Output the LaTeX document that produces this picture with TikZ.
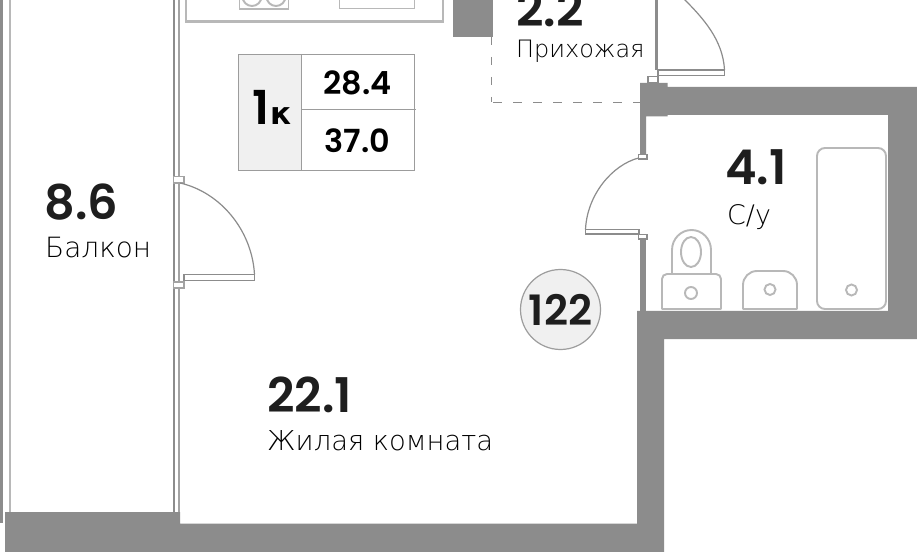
\documentclass[tikz,border=0pt]{standalone}
\usepackage{fontspec}
\setmainfont{DejaVu Sans ExtraLight}
\newfontfamily\numfont{Poppins SemiBold}
\newfontfamily\letterfont{DejaVu Sans}
\definecolor{wallgray}{HTML}{8C8C8C}
\definecolor{fixgray}{HTML}{B8B8B8}
\definecolor{inkdark}{HTML}{1E1E1E}
\tikzset{
  wall/.style={fill=wallgray, draw=none},
  fixture/.style={draw=fixgray, line width=1.9bp, fill=white},
  thin/.style={draw=wallgray, line width=1.1bp, fill=white},
  doorarc/.style={draw=wallgray, line width=1.2bp},
  area/.style={anchor=base west, inner sep=0pt, text=inkdark, font=\numfont\fontsize{48}{48}\selectfont},
  roomname/.style={anchor=base west, inner sep=0pt, text=black, font=\fontsize{#1}{#1}\selectfont},
  cell/.style={inner sep=0pt, text=black, font=\numfont\fontsize{32}{32}\selectfont}
}
\begin{document}
\begin{tikzpicture}[x=1bp, y=-1bp]
  \useasboundingbox (0, 0) rectangle (917, 552);
  \clip (0, 0) rectangle (917, 552);
  \fill [white] (0, 0) rectangle (917, 552);
  % balcony lines
  \fill [wallgray] (0, 0) rectangle (2.5, 523);
  \fill [fixgray] (9, 0) rectangle (10.5, 512);
  \fill [wallgray] (173, 0) rectangle (175, 512);
  \fill [wallgray!80] (178, 0) rectangle (180, 523);
  % walls
  \fill [wall] (5, 512) -- (180, 512) -- (180, 523.5) -- (637, 523.5) -- (637, 311)
    -- (888, 311) -- (888, 115) -- (667.5, 115) -- (667.5, 116.5) -- (646, 116.5)
    -- (646, 155) -- (640, 155) -- (640, 83) -- (667.5, 83) -- (667.5, 87) -- (917, 87)
    -- (917, 339) -- (664, 339) -- (664, 552) -- (5, 552) -- cycle;
  \fill [wall] (640, 238) rectangle (646, 312);
  \fill [wall] (453, 0) rectangle (493, 37);
  % partition of the hall
  \draw [wallgray, line width=1.2bp, dash pattern=on 8bp off 12bp] (491.5, 37) -- (491.5, 102.5);
  \draw [wallgray, line width=1.6bp, dash pattern=on 9bp off 11bp] (493, 102.5) -- (640, 102.5);
  % kitchen
  \draw [fixture, fill=none, line width=2.6bp] (186, -10) -- (186, 21.5) -- (443, 21.5) -- (443, -10);
  \draw [fixture, fill=none] (239.5, -10) -- (239.5, 9) -- (288.5, 9) -- (288.5, -10);
  \draw [fixture, fill=none] (252, -3.5) circle (9.5);
  \draw [fixture, fill=none] (276, -3.5) circle (9.5);
  \draw [fixture, fill=none] (339.5, -10) -- (339.5, 8.5) -- (414.5, 8.5) -- (414.5, -10);
  % flat type table
  \fill [black!6] (238.5, 54) rectangle (301.5, 170);
  \draw [fixgray!85!black, line width=0.8bp] (238.5, 54) rectangle (414.5, 170);
  \draw [fixgray!85!black, line width=0.8bp] (301.5, 54) -- (301.5, 170);
  \draw [fixgray!85!black, line width=0.8bp] (301.5, 109) -- (415.5, 109);
  \node [anchor=base west, inner sep=0pt, text=black, font=\numfont\fontsize{47}{47}\selectfont] (flatnum) at (252, 125) {1};
  \node [anchor=base west, inner sep=0pt, text=black, font=\letterfont\bfseries\fontsize{31}{31}\selectfont] (flatk) at (270, 125) {к};
  \node [cell] (livearea) at (357.5, 83) {28.4};
  \node [cell] (totalarea) at (357.5, 140.5) {37.0};
  % entrance door
  \draw [thin] (655.5, -5) -- (655.5, 70);
  \draw [thin] (657, -5) -- (657, 70);
  \draw [thin] (658, 70) rectangle (724.5, 75.5);
  \draw [thin] (648, 76.5) rectangle (658, 82.5);
  \draw [doorarc] (684, -1) .. controls (703, 18) and (723, 40) .. (724.5, 70);
  % bathroom door
  \draw [thin] (638.5, 154.5) rectangle (647, 159);
  \draw [thin] (638.5, 234.5) rectangle (647, 239);
  \draw [thin] (585.5, 229.5) rectangle (639, 234);
  \draw [doorarc] (585.5, 229.5) .. controls (587, 195) and (612, 165) .. (638.5, 158);
  % balcony door
  \draw [thin, draw=wallgray!80] (173.5, 176.5) rectangle (184, 183);
  \draw [thin, draw=wallgray!80] (173.5, 282) rectangle (184, 288);
  \draw [thin] (184, 274.5) rectangle (254.5, 280.5);
  \draw [doorarc] (180, 183) .. controls (220, 192) and (252, 230) .. (254.5, 274.5);
  % bathroom fixtures
  \draw [fixture, rounded corners=8bp] (817, 148) rectangle (886, 309);
  \draw [fixture] (851.5, 290) circle (5.5);
  \draw [fixture] (672, 274) -- (672, 250) arc [start angle=180, end angle=360, x radius=19.5, y radius=20] -- (711, 274);
  \draw [fixture] (691, 252) ellipse [x radius=10, y radius=15];
  \draw [fixture, rounded corners=5bp] (662, 309.5) -- (662, 274) -- (721, 274) -- (721, 309.5);
  \draw [fixture] (662, 309) -- (721, 309);
  \draw [fixture] (691, 293) circle (6);
  \draw [fixture, rounded corners=14bp] (743, 309.5) -- (743, 271) -- (797, 271) -- (797, 309.5);
  \draw [fixture] (743, 309) -- (797, 309);
  \draw [fixture] (770, 289.5) circle (5.5);
  % flat number
  \node [circle, draw=wallgray!85, line width=1.2bp, fill=black!6, minimum size=80bp, inner sep=0pt, text=inkdark, font=\numfont\fontsize{42}{42}\selectfont] (flatno) at (560.5, 309.5) {122};
  % rooms
  \node [area] (roomarea) at (267, 412) {22.1};
  \node [roomname=27.5] (roomlabel) at (267, 450) {Жилая комната};
  \node [area] (balconyarea) at (44.5, 220) {8.6};
  \node [roomname=28] (balconylabel) at (45, 258) {Балкон};
  \node [area] (bathrooma) at (725, 185) {4.1};
  \node [roomname=27] (bathlabel) at (727, 225) {С/у};
  \node [area] (hallarea) at (516, 27) {2.2};
  \node [roomname=24] (halllabel) at (516, 58) {Прихожая};
\end{tikzpicture}
\end{document}
